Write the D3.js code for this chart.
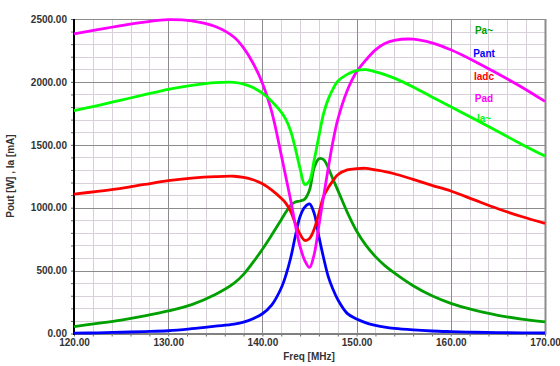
<!DOCTYPE html>
<html>
<head>
<meta charset="utf-8">
<script src="https://cdn.jsdelivr.net/npm/d3@7"></script>
<style>
html,body{margin:0;padding:0;background:#fff;}
svg{display:block;}
text{font-family:"Liberation Sans",Arial,sans-serif;font-weight:bold;}
</style>
</head>
<body>
<svg id="chart" width="560" height="366"></svg>
<script>
const freq = [120,122.5,125,127.5,130,132.5,135,137,138,139,140,141,142,142.5,143,143.5,144,144.5,145,145.5,146,146.5,147,147.5,148,149,150,151,152,153,154,156,158,160,162.5,165,167.5,170];
const paAC = [55,80,107,140,179,230,310,400,470,565,670,785,905,965,1020,1045,1053,1068,1140,1320,1390,1383,1315,1225,1140,965,815,700,611,540,482,380,300,240,185,145,115,92];
const pant = [3,5,10,15,22,38,58,75,90,117,157,228,362,465,600,775,930,1005,1030,955,770,600,450,350,270,160,115,85,65,50,40,28,20,15,10,7,5,4];
const iadc = [1108,1130,1154,1185,1215,1235,1247,1250,1241,1222,1190,1140,1075,1035,970,875,790,740,755,830,955,1090,1160,1215,1262,1300,1310,1313,1300,1287,1270,1225,1178,1133,1062,992,930,875];
const pad = [2381,2415,2447,2475,2495,2485,2440,2355,2270,2150,1990,1760,1420,1240,1060,860,690,580,525,630,860,1090,1320,1530,1700,1930,2080,2175,2255,2305,2330,2340,2310,2255,2165,2065,1960,1845];
const iaAC = [1771,1812,1855,1898,1941,1972,1994,1997,1983,1955,1910,1845,1760,1700,1610,1470,1310,1185,1215,1380,1570,1750,1865,1945,2005,2060,2090,2097,2080,2058,2030,1960,1880,1803,1705,1605,1505,1410];
const seriesNames = ["Pa~","Pant","Iadc","Pad","Ia~"];
const seriesColors = ["#00a000","#0000ff","#ff0000","#ff00ff","#00ff00"];
const seriesValues = [paAC,pant,iadc,pad,iaAC];
const xTicks = [120,130,140,150,160,170];
const yTicks = [0,500,1000,1500,2000,2500];
const xLabel = "Freq [MHz]";
const yLabel = "Pout [W] , Ia [mA]";

const svg = d3.select("#chart");
const L = 74, R = 545, T = 19, B = 333.5;
const x = d3.scaleLinear().domain([120,170]).range([L,R]);
const y = d3.scaleLinear().domain([0,2500]).range([B,T]);

const minorX = d3.range(120,170.001,2);
const minorY = d3.range(0,2500.001,100);

// minor grid
svg.append("g").selectAll("line").data(minorX).join("line")
  .attr("x1",d=>Math.round(x(d))+0.5).attr("x2",d=>Math.round(x(d))+0.5)
  .attr("y1",T).attr("y2",B).attr("stroke","#d8d0d8").attr("stroke-width",1);
svg.append("g").selectAll("line").data(minorY).join("line")
  .attr("y1",d=>Math.round(y(d))+0.5).attr("y2",d=>Math.round(y(d))+0.5)
  .attr("x1",L).attr("x2",R).attr("stroke","#d8d0d8").attr("stroke-width",1);
// major grid
svg.append("g").selectAll("line").data(xTicks).join("line")
  .attr("x1",d=>Math.round(x(d))+0.5).attr("x2",d=>Math.round(x(d))+0.5)
  .attr("y1",T).attr("y2",B).attr("stroke","#8c8c8c").attr("stroke-width",1);
svg.append("g").selectAll("line").data(yTicks).join("line")
  .attr("y1",d=>Math.round(y(d))+0.5).attr("y2",d=>Math.round(y(d))+0.5)
  .attr("x1",L).attr("x2",R).attr("stroke","#8c8c8c").attr("stroke-width",1);

// frame
svg.append("line").attr("x1",L).attr("x2",R).attr("y1",T+0.5).attr("y2",T+0.5).attr("stroke","#8c8c8c");
svg.append("line").attr("x1",R+0.5).attr("x2",R+0.5).attr("y1",T).attr("y2",B+1).attr("stroke","#8c8c8c").attr("stroke-width",2);

// minor ticks
const xt = svg.append("g").attr("transform",`translate(0,${B})`)
  .call(d3.axisBottom(x).tickValues(minorX).tickSize(3).tickFormat("").tickSizeOuter(0));
xt.select(".domain").remove();
xt.selectAll("line").attr("stroke","#666");
const yt = svg.append("g").attr("transform",`translate(${L},0)`)
  .call(d3.axisLeft(y).tickValues(minorY).tickSize(3).tickFormat("").tickSizeOuter(0));
yt.select(".domain").remove();
yt.selectAll("line").attr("stroke","#666");

// axis labels
const xa = svg.append("g").attr("transform",`translate(0,${B})`)
  .call(d3.axisBottom(x).tickValues(xTicks).tickFormat(d3.format(".2f")).tickSize(0).tickPadding(5));
xa.select(".domain").remove();
xa.selectAll("text").attr("font-size",10).attr("fill","#333").style("font-family","'Liberation Sans',Arial,sans-serif").style("font-weight","bold");
const ya = svg.append("g").attr("transform",`translate(${L},0)`)
  .call(d3.axisLeft(y).tickValues(yTicks).tickFormat(d3.format(".2f")).tickSize(0).tickPadding(7));
ya.select(".domain").remove();
ya.selectAll("text").attr("font-size",10).attr("fill","#333").style("font-family","'Liberation Sans',Arial,sans-serif").style("font-weight","bold");

// axis lines
svg.append("line").attr("x1",L).attr("x2",R+1).attr("y1",B+0.5).attr("y2",B+0.5).attr("stroke","#808080").attr("stroke-width",2);
svg.append("line").attr("x1",L).attr("x2",L).attr("y1",T).attr("y2",B+1.5).attr("stroke","#000").attr("stroke-width",2);

// titles
svg.append("text").attr("x",309).attr("y",357).attr("text-anchor","middle").attr("dominant-baseline","middle")
  .attr("font-size",10).attr("fill","#333").text(xLabel);
svg.append("text").attr("transform",`translate(11,176) rotate(-90)`).attr("text-anchor","middle").attr("dominant-baseline","middle")
  .attr("font-size",10).attr("fill","#333").text(yLabel);

// legend
const legY = [31,54.5,77.5,99.5,119];
svg.append("g").selectAll("text").data(seriesNames).join("text")
  .attr("x",484).attr("y",(d,i)=>legY[i]).attr("text-anchor","middle").attr("dominant-baseline","middle")
  .attr("font-size",10).attr("fill",(d,i)=>seriesColors[i]).text(d=>d);

// lines
const line = d3.line().x(d=>x(d[0])).y(d=>y(d[1])).curve(d3.curveCatmullRom.alpha(0.5));
seriesValues.forEach((vals,i)=>{
  svg.append("path").datum(freq.map((f,j)=>[f,vals[j]]))
    .attr("d",line).attr("fill","none").attr("stroke",seriesColors[i]).attr("stroke-width",2.8)
    .attr("stroke-linejoin","round");
});
</script>
</body>
</html>
